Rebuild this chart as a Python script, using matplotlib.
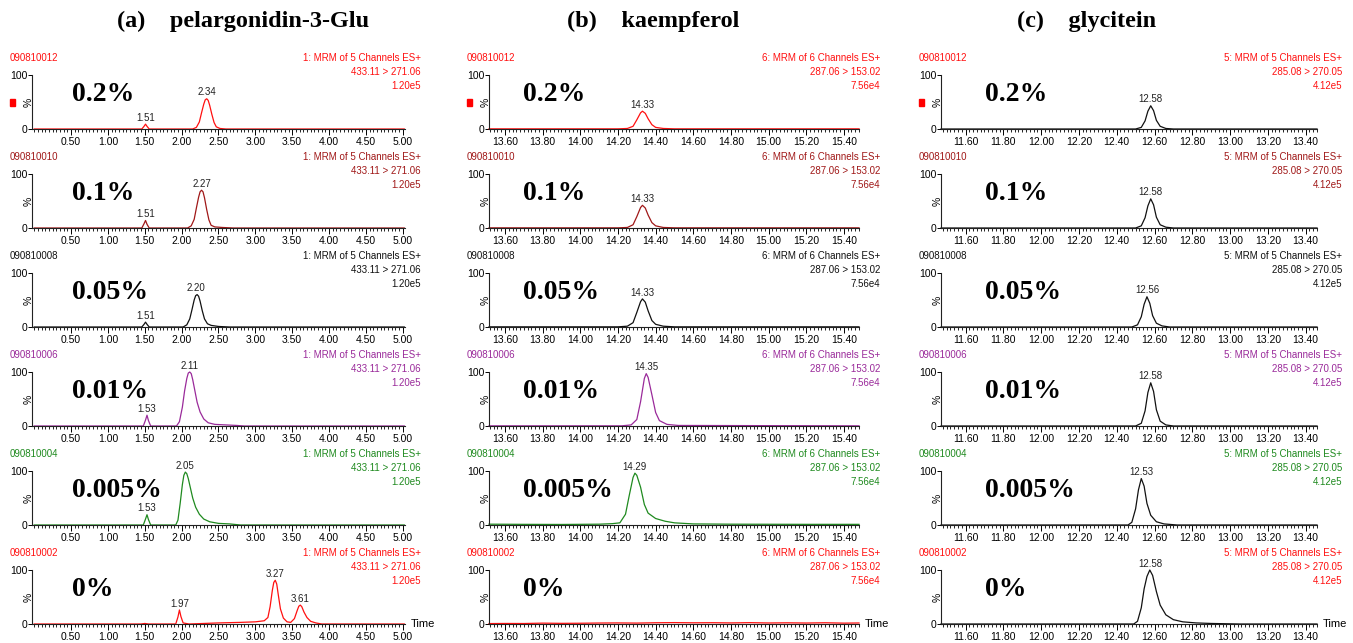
import matplotlib
matplotlib.use("Agg")
import matplotlib.pyplot as plt
from matplotlib.ticker import MultipleLocator
from matplotlib.patches import Rectangle

W, H = 1353, 643
NARROW = ["Liberation Sans Narrow", "Liberation Sans", "DejaVu Sans"]
SERIF = ["Liberation Serif", "DejaVu Serif"]

TITLES = ["(a)    pelargonidin-3-Glu", "(b)    kaempferol", "(c)    glycitein"]
SAMPLES = ["090810012", "090810010", "090810008", "090810006", "090810004", "090810002"]
CONC = ["0.2%", "0.1%", "0.05%", "0.01%", "0.005%", "0%"]
ROW_COLORS = ["#ff1010", "#a01818", "#111111", "#9a2a9a", "#1f8a1f", "#ff1010"]
HEADERS = [
    ["1: MRM of 5 Channels ES+", "433.11 > 271.06", "1.20e5"],
    ["6: MRM of 6 Channels ES+", "287.06 > 153.02", "7.56e4"],
    ["5: MRM of 5 Channels ES+", "285.08 > 270.05", "4.12e5"],
]

# ---- (a) pelargonidin-3-Glu, time 0-5 min ----
A1_T = [0, 1.46, 1.49, 1.51, 1.53, 1.56, 2.15, 2.20, 2.24, 2.27, 2.30, 2.32, 2.34, 2.36, 2.38, 2.41, 2.44, 2.47, 2.52, 2.60, 5.02]
A1_Y = [0, 0, 5, 9, 5, 0, 0, 3, 13, 30, 46, 54, 56, 53, 44, 27, 12, 4, 1, 0, 0]
A2_T = [0, 1.46, 1.49, 1.51, 1.53, 1.56, 2.08, 2.13, 2.17, 2.20, 2.23, 2.25, 2.27, 2.29, 2.31, 2.34, 2.37, 2.40, 2.45, 2.55, 2.70, 5.02]
A2_Y = [0, 0, 8, 14, 7, 0, 0, 4, 16, 37, 57, 67, 70, 67, 56, 34, 15, 5, 2, 1, 0, 0]
A3_T = [0, 1.46, 1.49, 1.51, 1.53, 1.56, 2.02, 2.07, 2.11, 2.14, 2.17, 2.19, 2.21, 2.23, 2.25, 2.28, 2.31, 2.35, 2.40, 2.50, 2.65, 5.02]
A3_Y = [0, 0, 5, 9, 5, 0, 0, 4, 15, 32, 50, 58, 60, 57, 48, 30, 15, 6, 3, 1, 0, 0]
A4_T = [0, 1.48, 1.51, 1.53, 1.55, 1.58, 1.93, 1.97, 2.01, 2.04, 2.07, 2.09, 2.11, 2.13, 2.15, 2.18, 2.21, 2.25, 2.30, 2.36, 2.45, 2.60, 2.75, 2.85, 5.02]
A4_Y = [0, 0, 11, 20, 10, 0, 0, 8, 35, 65, 88, 98, 100, 97, 86, 65, 44, 26, 13, 6, 3, 2, 1, 0, 0]
A5_T = [0, 1.48, 1.51, 1.53, 1.55, 1.58, 1.92, 1.95, 1.98, 2.01, 2.03, 2.05, 2.07, 2.09, 2.12, 2.15, 2.19, 2.24, 2.30, 2.38, 2.50, 2.65, 2.80, 5.02]
A5_Y = [0, 0, 11, 19, 10, 0, 0, 9, 40, 75, 92, 98, 95, 86, 68, 50, 33, 20, 11, 6, 3, 2, 0, 0]
A6_T = [0, 1.45, 1.50, 1.55, 1.92, 1.95, 1.97, 1.99, 2.02, 2.10, 2.50, 2.80, 3.00, 3.12, 3.17, 3.20, 3.23, 3.25, 3.27, 3.29, 3.31, 3.34, 3.38,
        3.43, 3.48, 3.53, 3.57, 3.59, 3.61, 3.63, 3.66, 3.70, 3.75, 3.82, 3.90, 5.02]
A6_Y = [0, 0, 1, 0, 0, 13, 26, 14, 2, 0, 2, 3, 4, 6, 12, 32, 62, 77, 81, 74, 55, 28, 11,
        4, 3, 10, 26, 33, 35, 32, 22, 12, 5, 2, 0, 0]
A_PEAKS = [["1.51", "2.34"], ["1.51", "2.27"], ["1.51", "2.20"], ["1.53", "2.11"], ["1.53", "2.05"], ["1.97", "3.27", "3.61"]]

# ---- (b) kaempferol ----
B_T = [13.515, 14.20, 14.25, 14.28, 14.30, 14.32, 14.33, 14.345, 14.36, 14.38, 14.40, 14.44, 14.50, 15.48]
B1_Y = [0.3, 0.3, 1, 5, 17, 30, 33, 29, 19, 8, 3, 1, 0.3, 0.3]
B2_Y = [0.3, 0.3, 1, 6, 21, 38, 42, 37, 24, 10, 4, 1, 0.3, 0.3]
B3_Y = [0.3, 0.3, 1.5, 8, 27, 47, 52, 46, 30, 12, 5, 1.5, 0.3, 0.3]
B4_T = [13.515, 14.22, 14.27, 14.30, 14.32, 14.34, 14.35, 14.36, 14.38, 14.40, 14.42, 14.46, 14.52, 15.48]
B4_Y = [0.3, 0.3, 2, 12, 45, 88, 97, 90, 58, 25, 10, 3, 1, 0.3]
B5_T = [13.515, 13.7, 13.9, 14.1, 14.17, 14.21, 14.24, 14.26, 14.28, 14.29, 14.30, 14.32, 14.34, 14.36, 14.40, 14.45, 14.50, 14.60, 14.80, 15.2, 15.48]
B5_Y = [1.5, 1.2, 1.0, 1.5, 2.5, 4, 20, 55, 88, 96, 92, 70, 38, 22, 12, 7, 4, 2, 1.5, 1.2, 1.2]
B6_T = [13.515, 13.6, 13.7, 13.8, 13.9, 14.0, 14.1, 14.2, 14.3, 14.4, 14.5, 14.6, 14.7, 14.8, 14.9, 15.0, 15.1, 15.2, 15.3, 15.4, 15.48]
B6_Y = [0.8, 1.0, 0.9, 1.6, 1.2, 1.4, 1.8, 2.0, 1.7, 2.3, 2.6, 2.2, 2.4, 2.0, 2.5, 1.9, 2.2, 1.8, 2.3, 1.6, 1.9]
B_PEAKS = [["14.33"], ["14.33"], ["14.33"], ["14.35"], ["14.29"], []]

# ---- (c) glycitein ----
C1_T = [11.47, 12.50, 12.53, 12.55, 12.565, 12.58, 12.595, 12.61, 12.63, 12.66, 12.70, 13.46]
C1_Y = [0, 0, 3, 15, 33, 43, 34, 16, 5, 1, 0, 0]
C2_Y = [0, 0, 4, 19, 41, 54, 43, 20, 6, 1.5, 0, 0]
C3_T = [11.47, 12.48, 12.51, 12.53, 12.545, 12.56, 12.575, 12.59, 12.61, 12.64, 12.68, 13.46]
C3_Y = [0, 0, 4, 19, 42, 56, 44, 21, 7, 2, 0, 0]
C4_Y = [0, 0, 5, 28, 62, 80, 64, 30, 9, 2, 0, 0]
C5_T = [11.47, 12.46, 12.48, 12.50, 12.515, 12.53, 12.545, 12.56, 12.58, 12.61, 12.65, 12.72, 13.46]
C5_Y = [0, 0, 5, 30, 65, 86, 72, 40, 18, 6, 2, 0, 0]
C6_T = [11.47, 12.49, 12.51, 12.53, 12.545, 12.56, 12.575, 12.59, 12.61, 12.63, 12.66, 12.70, 12.75, 12.82, 12.90, 13.05, 13.46]
C6_Y = [0, 0, 5, 30, 65, 88, 100, 90, 60, 35, 17, 8, 4, 2, 1, 0, 0]
C_PEAKS = [["12.58"], ["12.58"], ["12.56"], ["12.58"], ["12.53"], ["12.58"]]

TRACES = [
    [(A1_T, A1_Y), (A2_T, A2_Y), (A3_T, A3_Y), (A4_T, A4_Y), (A5_T, A5_Y), (A6_T, A6_Y)],
    [(B_T, B1_Y), (B_T, B2_Y), (B_T, B3_Y), (B4_T, B4_Y), (B5_T, B5_Y), (B6_T, B6_Y)],
    [(C1_T, C1_Y), (C1_T, C2_Y), (C3_T, C3_Y), (C1_T, C4_Y), (C5_T, C5_Y), (C6_T, C6_Y)],
]
PEAKS = [A_PEAKS, B_PEAKS, C_PEAKS]

XLIMS = [(-0.03, 5.03), (13.515, 15.48), (11.47, 13.46)]
MAJOR = [[0.5 * k for k in range(1, 11)],
         [13.6 + 0.2 * k for k in range(10)],
         [11.6 + 0.2 * k for k in range(10)]]
MINOR = [0.05, 0.02, 0.02]

# layout in pixels
COL_L = [32, 489, 941]
COL_R = [405, 859, 1317]
TEXT_R = [421, 880, 1342]
CONC_X = [0.107, 0.092, 0.117]
TITLE_X = [117, 567, 1017]
ROW_ZERO = [129 + 99 * i for i in range(6)]
AX_H = 54

plt.rcParams["font.family"] = NARROW
fig = plt.figure(figsize=(W / 100, H / 100), dpi=100)


def fx(x):
    return x / W


def fy(y):
    return 1 - y / H


for c in range(3):
    fig.text(fx(TITLE_X[c]), fy(21), TITLES[c], family=SERIF, fontweight="bold",
             fontsize=17.5, va="center", ha="left")
    for r in range(6):
        z = ROW_ZERO[r]
        ax = fig.add_axes([fx(COL_L[c]), fy(z), (COL_R[c] - COL_L[c]) / W, AX_H / H])
        t, y = TRACES[c][r]
        line_col = ROW_COLORS[r] if c < 2 else "#111111"
        ax.plot(t, y, color=line_col, lw=0.9, clip_on=False)
        ax.set_xlim(*XLIMS[c])
        ax.set_ylim(0, 100)
        for s in ("top", "right"):
            ax.spines[s].set_visible(False)
        for s in ("left", "bottom"):
            ax.spines[s].set_linewidth(0.8)
            ax.spines[s].set_color("#222222")
        ax.set_yticks([0, 100])
        ax.set_yticklabels(["0", "100"])
        ax.tick_params(axis="y", length=3, pad=0.5, labelsize=7.5, width=0.7)
        ax.set_xticks(MAJOR[c])
        ax.set_xticklabels([f"{v:.2f}" for v in MAJOR[c]])
        ax.xaxis.set_minor_locator(MultipleLocator(MINOR[c]))
        ax.tick_params(axis="x", which="major", length=4, pad=1.5, labelsize=7.5, width=0.7)
        ax.tick_params(axis="x", which="minor", length=2, width=0.6)
        ax.patch.set_alpha(0)

        # peak labels
        for lbl in PEAKS[c][r]:
            px = float(lbl)
            top = max(v for tt, v in zip(t, y) if abs(tt - px) <= 0.03)
            ax.annotate(lbl, (px, top), xytext=(0, 1), textcoords="offset points",
                        ha="center", va="bottom", fontsize=7, color="#222222")

        ax.text(CONC_X[c], 0.63, CONC[r], transform=ax.transAxes, family=SERIF,
                fontweight="bold", fontsize=20, va="center", ha="left")

        col = ROW_COLORS[r]
        fig.text(fx(COL_L[c] - 22), fy(z - 71), SAMPLES[r], color=col, fontsize=7,
                 va="center", ha="left")
        for k, hl in enumerate(HEADERS[c]):
            fig.text(fx(TEXT_R[c]), fy(z - 71 + 14 * k), hl, color=col, fontsize=7,
                     va="center", ha="right")
        fig.text(fx(COL_L[c] - 3), fy(z - 27), "%", rotation=90, fontsize=7.5,
                 va="center", ha="center")
        if r == 0:
            fig.patches.append(Rectangle((fx(COL_L[c] - 22), fy(z - 23)), 5 / W, 7 / H,
                                         transform=fig.transFigure, color="#ff0000"))
        if r == 5:
            fig.text(fx(COL_R[c] + 6), fy(z), "Time", fontsize=8, va="center", ha="left")

fig.savefig("out.png", dpi=100)
